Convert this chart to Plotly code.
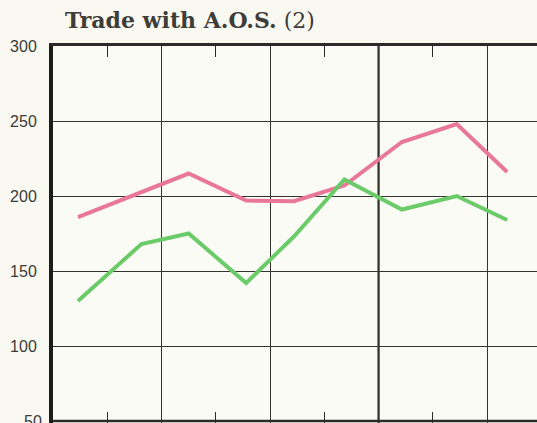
import plotly.graph_objects as go

# Periodo (posicion en el eje) y valores
period = [0.46, 1.63, 2.5, 3.56, 4.44, 5.37, 6.43, 7.44, 8.37]
pink_vals = [186, 215, 197, 196.5, 207, 236, 248, 216]
pink_x = [0.46, 2.5, 3.56, 4.44, 5.37, 6.43, 7.44, 8.37]
green_vals = [130, 168, 175, 142, 173, 211, 191, 200, 184]

y_ticks = [300, 250, 200, 150, 100]

colors = {
    'paper': '#f9f8f1',
    'plot': '#fbfbf6',
    'grid': '#33332f',
    'text': '#3b3b38',
    'pink': '#e8779a',
    'green': '#6ccb69'
}

fig = go.Figure()
fig.add_trace(go.Scatter(x=pink_x, y=pink_vals, mode='lines',
                         line=dict(color=colors['pink'], width=4), cliponaxis=False))
fig.add_trace(go.Scatter(x=period, y=green_vals, mode='lines',
                         line=dict(color=colors['green'], width=4), cliponaxis=False))

# Linea vertical mas gruesa y linea inferior (50)
fig.add_vline(x=6, line=dict(color='#222222', width=2.2), layer='below')
fig.add_hline(y=50, line=dict(color='#2a2a28', width=2.5), layer='below')

# Etiqueta 50 (cortada en el borde inferior)
fig.add_annotation(x=0, xref='paper', y=50, yref='y', text="50", showarrow=False,
                   xanchor='right', yanchor='middle', xshift=-9,
                   font=dict(size=16, color=colors['text']))

fig.update_layout(
    width=537, height=423,
    margin=dict(l=53, r=0, t=46, b=0),
    paper_bgcolor=colors['paper'],
    plot_bgcolor=colors['plot'],
    showlegend=False,
    title=dict(
        text="<b>Trade with A.O.S.</b> (2)",
        x=0.121, xanchor='left', y=0.952, yanchor='middle',
        font=dict(family="DejaVu Serif", size=22, color='#3e3d3a')
    ),
    font=dict(family="Liberation Sans Narrow, Liberation Sans", color=colors['text'])
)

fig.update_xaxes(
    range=[0, 8.92], tick0=0, dtick=2,
    showgrid=True, gridcolor=colors['grid'], gridwidth=1.4,
    showticklabels=False, zeroline=False,
    showline=True, linecolor='#2a2a28', linewidth=2.5, mirror='ticks',
    ticks='',
    minor=dict(dtick=1, tick0=0, ticks='inside', ticklen=11, tickcolor='#2a2a28',
               tickwidth=1.3, showgrid=False)
)
fig.update_yaxes(
    range=[48.7, 300], tickvals=y_ticks,
    showgrid=True, gridcolor=colors['grid'], gridwidth=1.4,
    zeroline=False,
    showline=True, linecolor='#1c1c1a', linewidth=4,
    ticks='', ticklabelstandoff=9,
    tickfont=dict(size=16, color=colors['text'])
)

fig.write_html("out.html", config={'displayModeBar': False},
               post_script="document.body.style.margin='0';")
